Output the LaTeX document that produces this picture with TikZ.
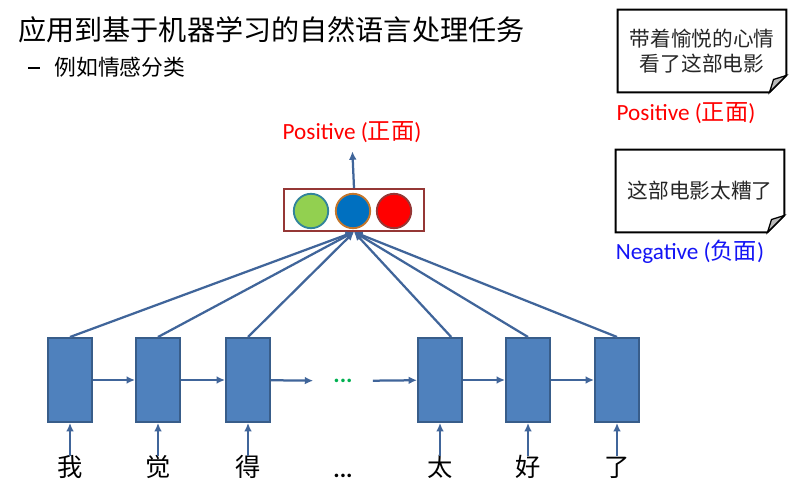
\documentclass[tikz,border=0pt]{standalone}
\usepackage{fontspec}
\setmainfont{Carlito}
\newfontfamily\cjk{Noto Sans CJK SC}
\usetikzlibrary{arrows.meta}

\definecolor{cellblue}{HTML}{4F81BD}
\definecolor{celledge}{HTML}{385D8A}
\definecolor{linkblue}{HTML}{40659A}
\definecolor{boxred}{HTML}{953735}
\definecolor{softgreen}{HTML}{92D050}
\definecolor{tealedge}{HTML}{31849B}
\definecolor{deepblue}{HTML}{0070C0}
\definecolor{orangeedge}{HTML}{C4762B}
\definecolor{dotgreen}{HTML}{00B050}
\definecolor{negblue}{HTML}{1414F5}

\tikzset{
  cell/.style={draw=celledge,fill=cellblue,line width=1.4pt,minimum width=1.1cm,minimum height=2.1cm,inner sep=0pt},
  link/.style={draw=linkblue,line width=1.6pt,-{Latex[length=6pt,width=5.5pt]}},
  word/.style={font=\cjk\fontsize{18}{18}\selectfont,text height=0.8em,text depth=0.2em,inner sep=0pt},
  ball/.style={circle,line width=1.3pt,minimum size=0.86cm,inner sep=0pt},
  note/.style={align=center,minimum width=4.2cm,minimum height=2.05cm,inner sep=0pt,text=black!85,
    font=\cjk\fontsize{14.7}{17.5}\selectfont},
  tag/.style={font=\fontsize{16.5}{19}\selectfont,inner sep=0pt}
}

\begin{document}
\begin{tikzpicture}[x=0.025cm,y=-0.025cm]
    \useasboundingbox (0,0) rectangle (800,498);

    % Heading
    \node[anchor=west,inner sep=0pt,font=\cjk\fontsize{20}{24}\selectfont] (title) at (18,30) {应用到基于机器学习的自然语言处理任务};
    \node[anchor=west,inner sep=0pt,font=\fontsize{15.5}{18}\selectfont] (sub) at (28,67) {\rule[0.3em]{0.3cm}{0.09em}\hspace{0.65em}{\cjk 例如情感分类}};

    % Recurrent cells
    \node[cell] (c1) at (70,380) {};
    \node[cell] (c2) at (158,380) {};
    \node[cell] (c3) at (248,380) {};
    \node[inner sep=0pt,minimum width=1.475cm,text=dotgreen,font=\bfseries\fontsize{17}{17}\selectfont] (gdots) at (343,381) {...};
    \node[cell] (c4) at (440,380) {};
    \node[cell] (c5) at (528,380) {};
    \node[cell] (c6) at (617,380) {};

    % Input words
    \node[word] (w1) at (70,472) {我};
    \node[word] (w2) at (158,472) {觉};
    \node[word] (w3) at (248,472) {得};
    \node[inner sep=0pt,font=\bfseries\fontsize{17}{17}\selectfont] (wdots) at (343,476) {...};
    \node[word] (w4) at (440,472) {太};
    \node[word] (w5) at (528,472) {好};
    \node[word] (w6) at (617,472) {了};

    \foreach \i in {1,...,6}
        \draw[link,shorten <=6pt] (w\i.north) -- (c\i.south);

    % Hidden state passing
    \draw[link] (c1) -- (c2);
    \draw[link] (c2) -- (c3);
    \draw[link] (c3) -- (gdots);
    \draw[link] (gdots) -- (c4);
    \draw[link] (c4) -- (c5);
    \draw[link] (c5) -- (c6);

    % Output layer
    \node[draw=boxred,line width=1.4pt,minimum width=3.5cm,minimum height=1.05cm,inner sep=0pt] (out) at (354,210) {};
    \node[ball,fill=softgreen,draw=tealedge] (o1) at (311,211) {};
    \node[ball,fill=deepblue,draw=orangeedge] (o2) at (353,211) {};
    \node[ball,fill=red,draw=boxred] (o3) at (394,211) {};

    \draw[link] (c1.north) -- (out.south);
    \draw[link] (c2.north) -- (out.south);
    \draw[link] (c3.north) -- (out.south);
    \draw[link] ([xshift=0.28cm]c4.north) -- (out.south);
    \draw[link] (c5.north) -- (out.south);
    \draw[link] (c6.north) -- (out.south);

    \node[tag,text=red] (pos) at (352,132) {Positive ({\cjk 正面})};
    \draw[link,shorten >=6pt] (out.north) -- (pos.south);

    % Sample reviews
    \node[note] (n1) at (702,51) {带着愉悦的心情\\看了这部电影};
    \draw[line width=1.4pt] (n1.north west) -- (n1.north east) -- ([yshift=0.42cm]n1.south east)
        -- ([xshift=-0.42cm]n1.south east) -- (n1.south west) -- cycle;
    \filldraw[fill=gray!55,line width=0.9pt] ([yshift=0.42cm]n1.south east) -- ([xshift=-0.42cm]n1.south east)
        -- ([xshift=-0.32cm,yshift=0.32cm]n1.south east) -- cycle;
    \node[tag,text=red] (t1) at (686,113) {Positive ({\cjk 正面})};

    \node[note] (n2) at (700,191) {这部电影太糟了};
    \draw[line width=1.4pt] (n2.north west) -- (n2.north east) -- ([yshift=0.42cm]n2.south east)
        -- ([xshift=-0.42cm]n2.south east) -- (n2.south west) -- cycle;
    \filldraw[fill=gray!55,line width=0.9pt] ([yshift=0.42cm]n2.south east) -- ([xshift=-0.42cm]n2.south east)
        -- ([xshift=-0.32cm,yshift=0.32cm]n2.south east) -- cycle;
    \node[tag,text=negblue] (t2) at (690,252) {Negative ({\cjk 负面})};
\end{tikzpicture}
\end{document}
